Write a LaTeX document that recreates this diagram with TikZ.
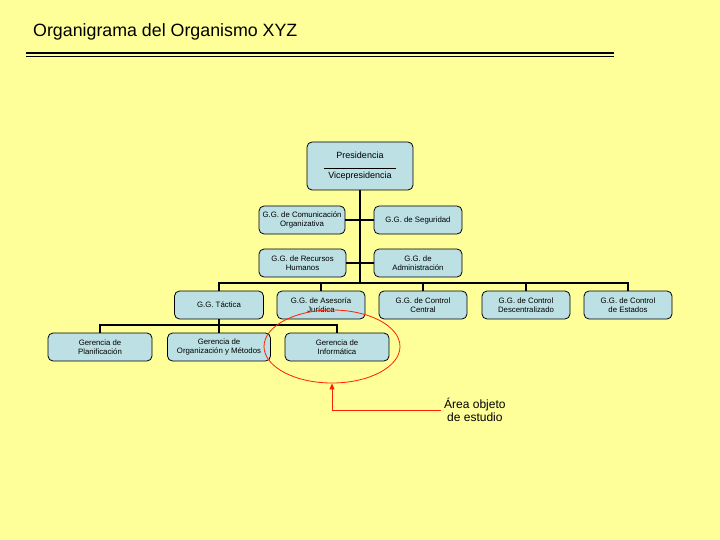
\documentclass[tikz,border=0pt]{standalone}
\usepackage{fontspec}
\setmainfont{Liberation Sans}
\usetikzlibrary{shapes.geometric,arrows.meta}
\definecolor{fondo}{HTML}{FFFF99}
\definecolor{caja}{HTML}{BCE0E4}
\definecolor{rojo}{HTML}{FF2000}

\begin{document}
\begin{tikzpicture}[x=1pt,y=-1pt]
      \tikzstyle{unidad}=[draw=black, fill=caja, rounded corners=5pt, line width=0.8pt,
        minimum height=28pt, align=center, inner sep=1pt, font=\fontsize{7.8}{9.5}\selectfont]
      \tikzstyle{enlace}=[black, line width=2pt]
      \useasboundingbox (0,0) rectangle (720,540);
      \fill [fondo] (0,0) rectangle (720,540);
      % titulo
      \node [anchor=base west, inner sep=0pt, font=\fontsize{17.8}{20}\selectfont] (titulo) at (33,37) {Organigrama del Organismo XYZ};
      \draw [black, line width=1.1pt] (26,53) -- (614,53);
      \draw [black, line width=1.1pt] (26,56.5) -- (614,56.5);
      % cajas
      \node [unidad, minimum width=106pt, minimum height=48pt, font=\fontsize{9}{11}\selectfont] (pres) at (360,166)
        {Presidencia\\[-1pt]\rule{72pt}{0.6pt}\\[-1pt]Vicepresidencia};
      \node [unidad, minimum width=86pt] (com) at (302,220) {G.G. de Comunicación\\Organizativa};
      \node [unidad, minimum width=88pt] (seg) at (418,220) {G.G. de Seguridad};
      \node [unidad, minimum width=87pt] (rrhh) at (302.5,263) {G.G. de Recursos\\Humanos};
      \node [unidad, minimum width=88pt] (adm) at (418,263) {G.G. de\\Administración};
      \node [unidad, minimum width=89pt] (tac) at (219,305) {G.G. Táctica};
      \node [unidad, minimum width=88pt] (ase) at (321,305) {G.G. de Asesoría\\Jurídica};
      \node [unidad, minimum width=88pt] (cc) at (423,305) {G.G. de Control\\Central};
      \node [unidad, minimum width=88pt] (cd) at (526,305) {G.G. de Control\\Descentralizado};
      \node [unidad, minimum width=88pt] (ce) at (628,305) {G.G. de Control\\de Estados};
      \node [unidad, minimum width=104pt] (pla) at (100,347) {Gerencia de\\Planificación};
      \node [unidad, minimum width=103pt] (org) at (219,347) {Gerencia de\\Organización y Métodos};
      \node [unidad, minimum width=104pt] (inf) at (337,347) {Gerencia de\\Informática};
      % lineas
      \coordinate (bus) at (360,283);
      \coordinate (bus2) at (219,325);
      \draw [enlace] (pres.south) -- (bus);
      \draw [enlace] (com.east) -- (seg.west);
      \draw [enlace] (rrhh.east) -- (adm.west);
      \draw [enlace] (tac.north) |- (bus) -| (ce.north);
      \foreach \u in {ase,cc,cd}
        \draw [enlace] (\u.north) -- (\u.north |- bus);
      \draw [enlace] (tac.south) -- (bus2);
      \draw [enlace] (pla.north) |- (bus2) -| (inf.north);
      \draw [enlace] (org.north) -- (org.north |- bus2);
      % area de estudio
      \node [draw=rojo, ellipse, line width=0.8pt, minimum width=136pt, minimum height=73pt, inner sep=0pt] (area) at (332,346.5) {};
      \node [anchor=west, align=center, inner sep=3pt, font=\fontsize{12}{13.5}\selectfont] (nota) at (441,410) {Área objeto\\de estudio};
      \draw [rojo, line width=0.8pt, -{Triangle[width=5pt,length=6pt]}] (nota.west) -| (area.south);
    \end{tikzpicture}
\end{document}
